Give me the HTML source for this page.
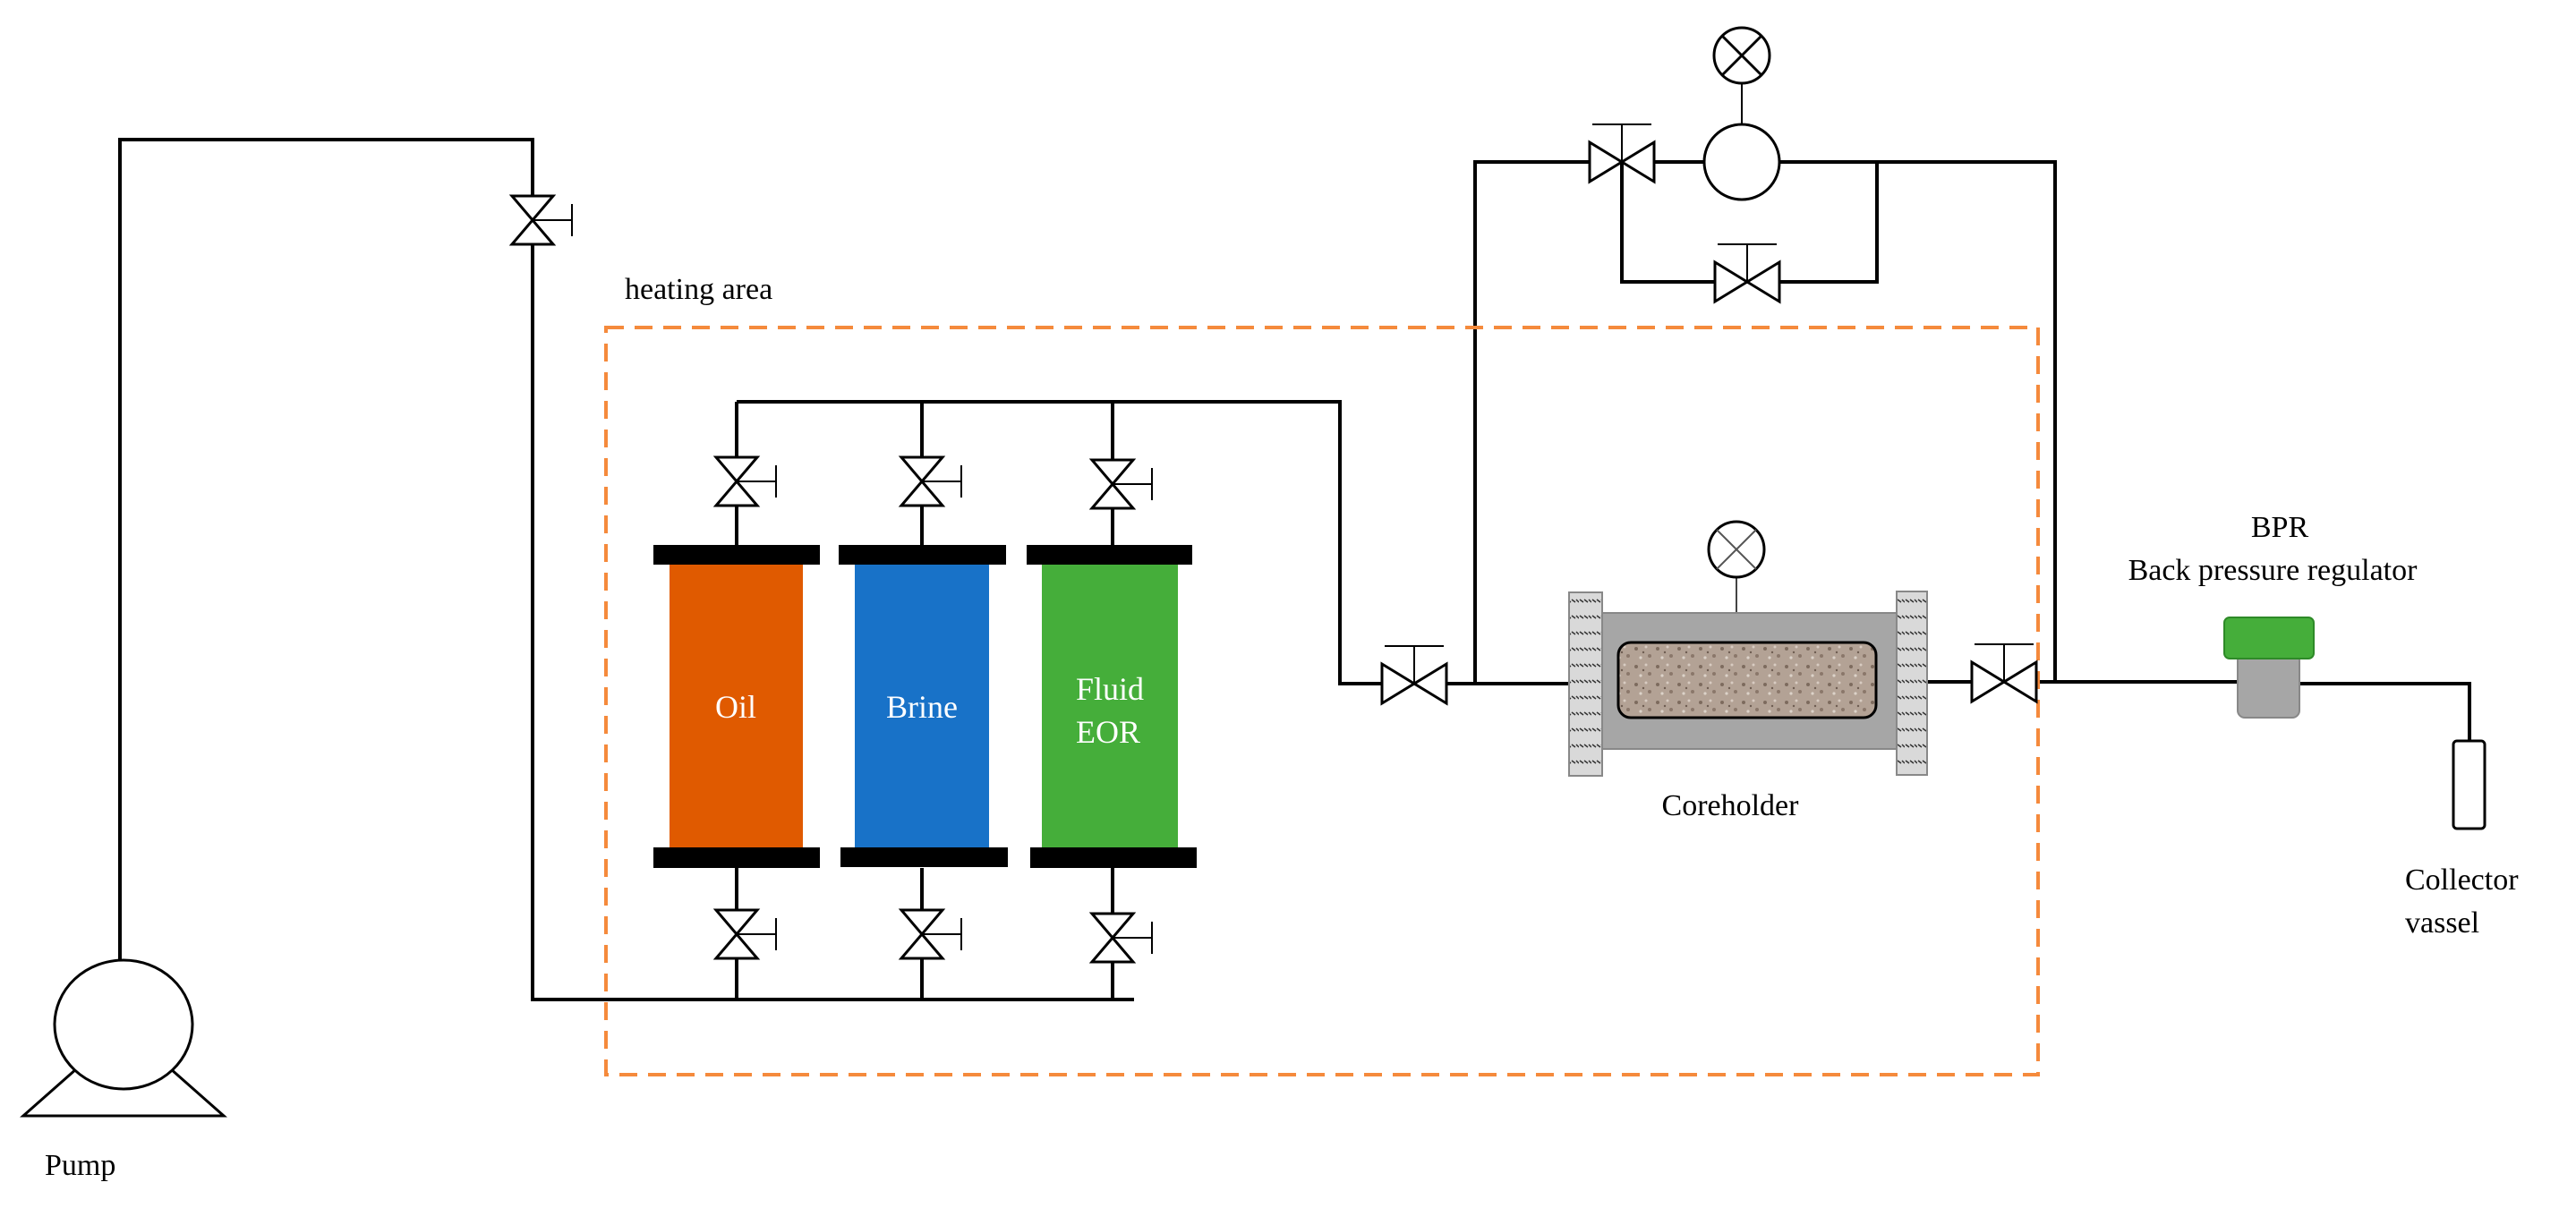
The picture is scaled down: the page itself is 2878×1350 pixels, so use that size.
<!DOCTYPE html>
<html><head><meta charset="utf-8"><style>
html,body{margin:0;padding:0;background:#fff;}
svg{display:block;}
text{font-family:"Liberation Serif",serif;}
</style></head><body>
<svg width="2878" height="1350" viewBox="0 0 2878 1350" xmlns="http://www.w3.org/2000/svg">
<defs>
<g id="vv"><!-- vertical valve centered at 0,0 -->
<path d="M-23,-27 L23,-27 L-23,27 L23,27 Z" fill="#fff" stroke="#000" stroke-width="3" stroke-linejoin="miter"/>
<line x1="0" y1="0" x2="44" y2="0" stroke="#000" stroke-width="2"/>
<line x1="44" y1="-18" x2="44" y2="18" stroke="#000" stroke-width="2"/>
</g>
<g id="hv"><!-- horizontal valve centered -->
<path d="M-36,-22 L-36,22 L36,-22 L36,22 Z" fill="#fff" stroke="#000" stroke-width="3"/>
<line x1="0" y1="0" x2="0" y2="-42" stroke="#000" stroke-width="2"/>
<line x1="-33" y1="-42" x2="33" y2="-42" stroke="#000" stroke-width="2"/>
</g>
<pattern id="hatch" width="14" height="18" patternUnits="userSpaceOnUse">
<rect width="14" height="18" fill="#d9d9d9"/>
<path d="M1,4 l4,3 M6,4 l4,3 M11,4 l3,3" stroke="#333" stroke-width="1.5"/>
</pattern>
<pattern id="rock" width="24" height="20" patternUnits="userSpaceOnUse">
<rect width="24" height="20" fill="#b3a295"/>
<circle cx="4" cy="5" r="2" fill="#7d6b5e"/><circle cx="15" cy="3" r="1.5" fill="#d8ccc2"/>
<circle cx="19" cy="13" r="2" fill="#8a776a"/><circle cx="9" cy="15" r="1.6" fill="#dcd2c9"/>
<circle cx="12" cy="9" r="1.2" fill="#6e5d52"/>
</pattern>
</defs>

<g stroke="#000" stroke-width="4" fill="none">
<!-- pump loop -->
<polyline points="134,1075 134,156 595,156 595,1117 1267,1117"/>
<!-- manifold -->
<polyline points="823,449 1497,449 1497,764 1754,764"/>
<line x1="823" y1="449" x2="823" y2="609"/>
<line x1="1030" y1="449" x2="1030" y2="609"/>
<line x1="1243" y1="449" x2="1243" y2="609"/>
<line x1="823" y1="970" x2="823" y2="1117"/>
<line x1="1030" y1="970" x2="1030" y2="1117"/>
<line x1="1243" y1="970" x2="1243" y2="1117"/>
<!-- upper bypass -->
<polyline points="1648,764 1648,181 2296,181 2296,762"/>
<polyline points="1812,181 1812,315 2097,315 2097,181"/>
<!-- outlet -->
<line x1="2153" y1="762" x2="2500" y2="762"/>
<polyline points="2569,764 2759,764 2759,828"/>
</g>

<!-- heating area -->
<rect x="677" y="366" width="1600" height="835" fill="none" stroke="#f58a3c" stroke-width="4" stroke-dasharray="20,12"/>
<text x="698" y="334" font-size="34">heating area</text>

<!-- valves -->
<use href="#vv" x="595" y="246"/>
<use href="#vv" x="823" y="538"/>
<use href="#vv" x="1030" y="538"/>
<use href="#vv" x="1243" y="541"/>
<use href="#vv" x="823" y="1044"/>
<use href="#vv" x="1030" y="1044"/>
<use href="#vv" x="1243" y="1048"/>
<use href="#hv" x="1580" y="764"/>
<use href="#hv" x="2239" y="762"/>
<use href="#hv" x="1812" y="181"/>
<use href="#hv" x="1952" y="315"/>

<!-- columns -->
<rect x="730" y="609" width="186" height="22" fill="#000"/>
<rect x="937" y="609" width="187" height="22" fill="#000"/>
<rect x="1147" y="609" width="185" height="22" fill="#000"/>
<rect x="748" y="631" width="149" height="316" fill="#e05a00"/>
<rect x="955" y="631" width="150" height="316" fill="#1872c8"/>
<rect x="1164" y="631" width="152" height="316" fill="#45ae3a"/>
<rect x="730" y="947" width="186" height="23" fill="#000"/>
<rect x="939" y="947" width="187" height="22" fill="#000"/>
<rect x="1151" y="947" width="186" height="23" fill="#000"/>
<g fill="#fff" font-size="36" text-anchor="middle">
<text x="822" y="802">Oil</text>
<text x="1030" y="802">Brine</text>
<text x="1240" y="782">Fluid</text>
<text x="1238" y="830">EOR</text>
</g>

<!-- pump -->
<polygon points="26,1247 250,1247 190,1194 86,1194" fill="#fff" stroke="#000" stroke-width="3"/>
<ellipse cx="138" cy="1145" rx="77" ry="72" fill="#fff" stroke="#000" stroke-width="3"/>
<text x="50" y="1313" font-size="34">Pump</text>

<!-- gauges top -->
<line x1="1946" y1="93" x2="1946" y2="140" stroke="#000" stroke-width="2"/>
<circle cx="1946" cy="181" r="42" fill="#fff" stroke="#000" stroke-width="3"/>
<circle cx="1946" cy="62" r="31" fill="#fff" stroke="#000" stroke-width="3"/>
<path d="M1924,40 L1968,84 M1968,40 L1924,84" stroke="#000" stroke-width="3"/>

<!-- coreholder -->
<line x1="1940" y1="645" x2="1940" y2="685" stroke="#444" stroke-width="2"/>
<circle cx="1940" cy="614" r="31" fill="#fff" stroke="#000" stroke-width="3"/>
<path d="M1918,592 L1962,636 M1962,592 L1918,636" stroke="#555" stroke-width="2"/>
<rect x="1789" y="685" width="332" height="152" fill="#a6a6a6" stroke="#888" stroke-width="2"/>
<rect x="1753" y="662" width="37" height="205" fill="url(#hatch)" stroke="#888" stroke-width="2"/>
<rect x="2119" y="661" width="34" height="205" fill="url(#hatch)" stroke="#888" stroke-width="2"/>
<rect x="1808" y="718" width="288" height="84" rx="14" fill="url(#rock)" stroke="#000" stroke-width="3"/>
<text x="1933" y="911" font-size="34" text-anchor="middle">Coreholder</text>

<!-- BPR -->
<text x="2547" y="600" font-size="34" text-anchor="middle">BPR</text>
<text x="2539" y="648" font-size="34" text-anchor="middle">Back pressure regulator</text>
<rect x="2500" y="730" width="69" height="72" rx="8" fill="#a6a6a6" stroke="#888" stroke-width="2"/>
<rect x="2485" y="690" width="100" height="46" rx="6" fill="#45ae3a" stroke="#2e8a28" stroke-width="2"/>

<!-- collector -->
<rect x="2741" y="828" width="35" height="98" rx="4" fill="#fff" stroke="#000" stroke-width="3"/>
<text x="2687" y="994" font-size="34">Collector</text>
<text x="2687" y="1042" font-size="34">vassel</text>
</svg>
</body></html>
